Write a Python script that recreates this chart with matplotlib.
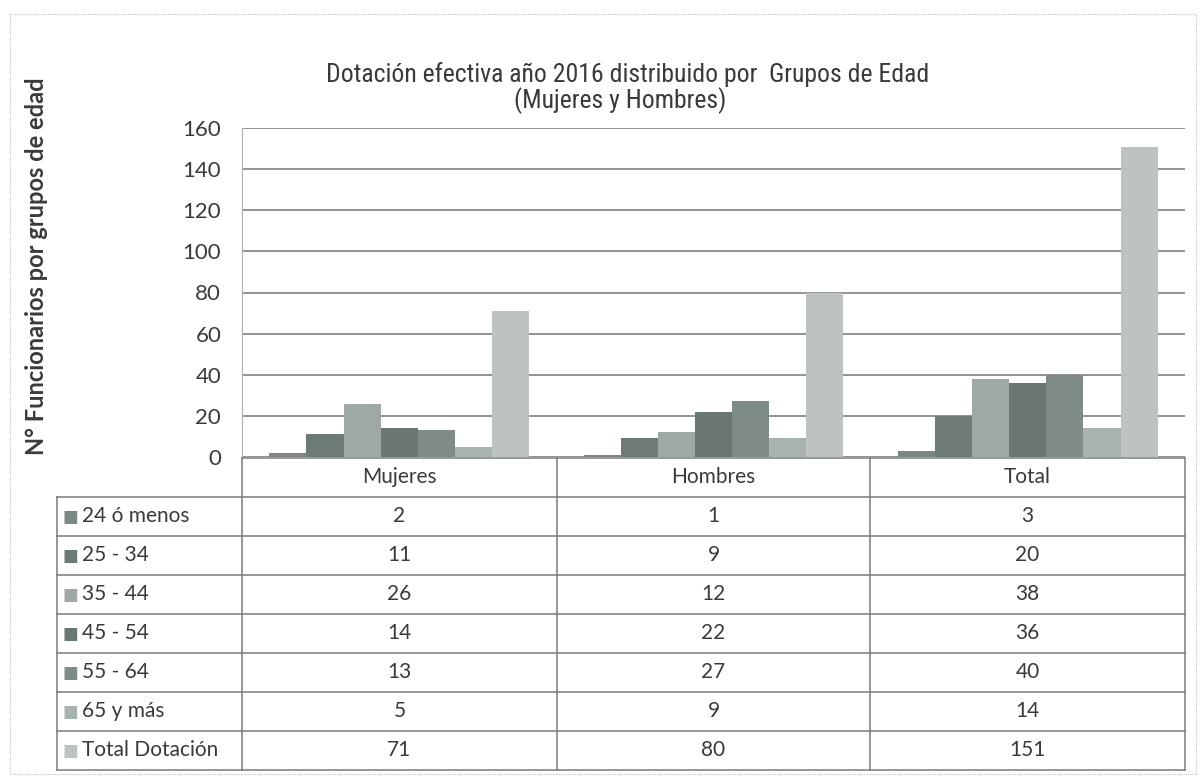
import matplotlib
matplotlib.use("Agg")
import matplotlib.pyplot as plt
from matplotlib.lines import Line2D
from matplotlib.transforms import Affine2D
import numpy as np

# Datos
grupos = ["Mujeres", "Hombres", "Total"]
series = ["24 ó menos", "25 - 34", "35 - 44", "45 - 54", "55 - 64", "65 y más", "Total Dotación"]
valores = [
    [2, 1, 3],
    [11, 9, 20],
    [26, 12, 38],
    [14, 22, 36],
    [13, 27, 40],
    [5, 9, 14],
    [71, 80, 151],
]
colores = ["#7b8783", "#6d7a76", "#9ea8a5", "#6a7672", "#7f8b87", "#a8b2af", "#bcc3c1"]
yticks = [0, 20, 40, 60, 80, 100, 120, 140, 160]

W, H = 1202, 778
fig = plt.figure(figsize=(W / 100, H / 100), dpi=100)
fig.patch.set_facecolor("white")
# coordenadas en píxeles (origen arriba a la izquierda)
px = Affine2D().scale(1 / W, -1 / H).translate(0, 1) + fig.transFigure

# borde punteado del gráfico
fig.add_artist(plt.Rectangle((10, 14), 1186, 760, transform=px, fill=False,
                             edgecolor="#c4c4c4", linewidth=0.8, linestyle=(0, (1, 1))))

x0, x1, ytop, ybot = 242, 1185, 128, 457
ax = fig.add_axes([x0 / W, 1 - ybot / H, (x1 - x0) / W, (ybot - ytop) / H])

x = np.arange(len(grupos))
ancho = 0.118
for i, (nombre, vals) in enumerate(zip(series, valores)):
    ax.bar(x + (i - 3) * ancho, vals, width=ancho, color=colores[i], edgecolor="none", zorder=3)

ax.set_xlim(-0.5, 2.5)
ax.set_ylim(0, 160)
ax.set_yticks(yticks)
ax.set_yticklabels([str(t) for t in yticks], fontsize=16, family="Lato", color="#3a3a3a")
ax.set_xticks([])
ax.tick_params(axis="y", length=0, pad=15)
ax.yaxis.grid(True, color="#8a8a8a", linewidth=1.3, zorder=0)
for s in ["top", "right", "bottom"]:
    ax.spines[s].set_visible(False)
ax.spines["left"].set_color("#b0b0b0")
ax.spines["left"].set_linewidth(0.8)

# tabla de datos dibujada a mano
col_x = [57, 242, 557, 870, 1185]
fila_y = [458 + 39 * k for k in range(9)]
color_linea = "#7a7a7a"
for k, yy in enumerate(fila_y):
    xa = col_x[1] if k == 0 else col_x[0]
    fig.add_artist(Line2D([xa, col_x[-1]], [yy, yy], transform=px, color=color_linea, linewidth=1.1))
for k, xx in enumerate(col_x):
    ya = fila_y[1] if k == 0 else fila_y[0]
    fig.add_artist(Line2D([xx, xx], [ya, fila_y[-1]], transform=px, color=color_linea, linewidth=1.1))

fuente = dict(fontsize=15, family="Lato", color="#3a3a3a", va="center", transform=px)
for j, g in enumerate(grupos):
    xc = (col_x[j + 1] + col_x[j + 2]) / 2
    fig.text(xc, (fila_y[0] + fila_y[1]) / 2, g, ha="center", **fuente)
for i, (nombre, vals) in enumerate(zip(series, valores)):
    yc = (fila_y[i + 1] + fila_y[i + 2]) / 2
    fig.text(62, yc, "■", ha="left", va="center", fontsize=12, family="DejaVu Sans",
             color=colores[i], transform=px)
    fig.text(82, yc, nombre, ha="left", **fuente)
    for j, v in enumerate(vals):
        xc = (col_x[j + 1] + col_x[j + 2]) / 2
        fig.text(xc, yc, str(v), ha="center", **fuente)

titulo = dict(ha="center", va="center", fontsize=18.5, fontstretch="condensed",
              family=["Liberation Sans Narrow", "Roboto Condensed", "DejaVu Sans"],
              color="#3a3a3a", transform=px)
fig.text(628, 75, "Dotación efectiva año 2016 distribuido por  Grupos de Edad", **titulo)
fig.text(620, 101, "(Mujeres y Hombres)", **titulo)
fig.text(37, 266, "N° Funcionarios por grupos de edad", rotation=90,
         ha="center", va="center", fontsize=17, fontweight="bold", family="Lato",
         color="#3a3a3a", transform=px)

plt.savefig("out.png", dpi=100)
